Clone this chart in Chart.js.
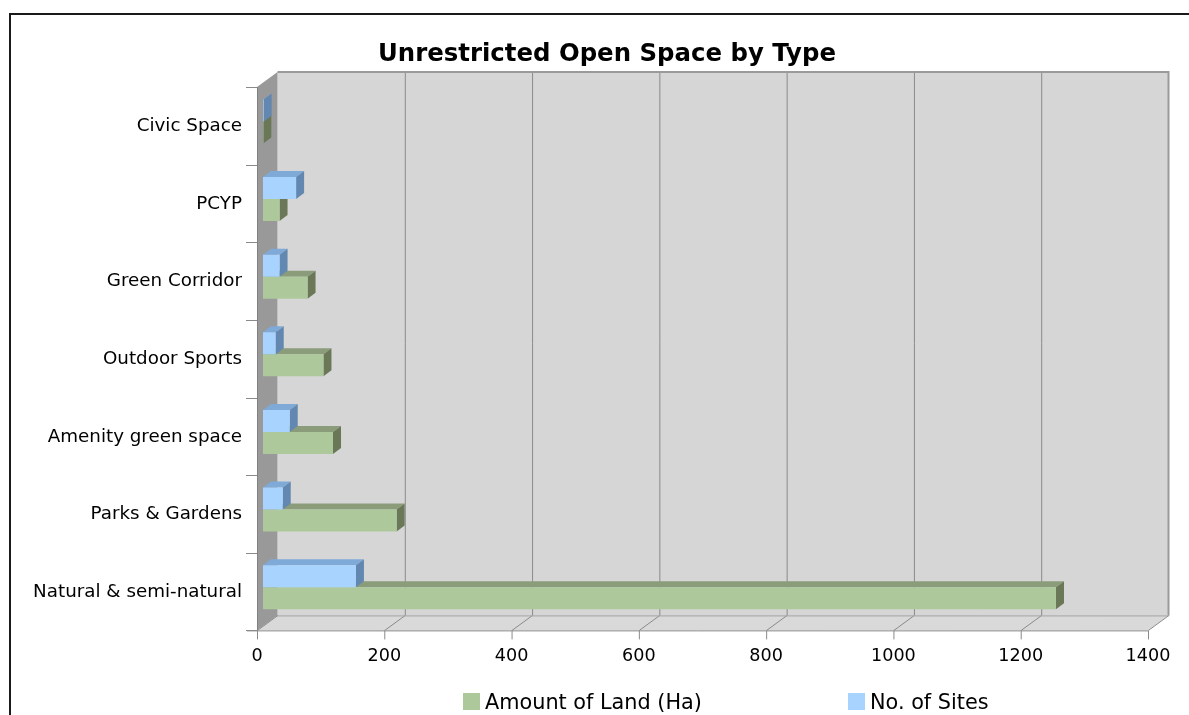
<!DOCTYPE html>
<html>
<head>
<meta charset="utf-8">
<script src="https://cdn.jsdelivr.net/npm/chart.js@4"></script>
<style>
  html, body { margin:0; padding:0; background:#fff; overflow:hidden; width:1189px; height:715px; }
  #frame { position:absolute; left:9px; top:13px; width:1300px; height:800px; border:2px solid #1a1a1a; }
  #wrap { position:absolute; left:0; top:0; width:1189px; height:715px; }
  #title { position:absolute; left:0; top:38px; width:1214px; text-align:center; font:bold 24.4px "DejaVu Sans", Verdana, sans-serif; color:#000; line-height:30px; }
  .leg { position:absolute; top:690px; font:20.8px "DejaVu Sans", Verdana, sans-serif; color:#000; white-space:nowrap; }
  .leg span { display:inline-block; width:17px; height:17px; vertical-align:-1px; margin-right:5px; }
</style>
</head>
<body>
<div id="frame"></div>
<div id="wrap"><canvas id="chart"></canvas></div>
<div id="title">Unrestricted Open Space by Type</div>
<div class="leg" style="left:463px;"><span style="background:#adc99c"></span>Amount of Land (Ha)</div>
<div class="leg" style="left:848px;"><span style="background:#a9d3ff"></span>No. of Sites</div>
<script>
// categories top to bottom
const categories = ['Civic Space', 'PCYP', 'Green Corridor', 'Outdoor Sports', 'Amenity green space', 'Parks & Gardens', 'Natural & semi-natural'];
const landHa = [0.5, 26, 70, 95, 110, 210, 1246];
const sites = [1, 52, 26, 20, 42, 31, 146];
const xTicks = [0, 200, 400, 600, 800, 1000, 1200, 1400];

const FONT = '"DejaVu Sans", Verdana, sans-serif';
// depth offsets from the bar plane
const FRONT = { x: -6, y: 4.4 };
const BACK = { x: 14.5, y: -10.6 };
const BAR_D = { x: 8, y: -6 };

const faces = {
  land: { top: '#8b9c7b', side: '#6a7858' },
  sites: { top: '#7fa9d6', side: '#6287b0' }
};

function poly(ctx, pts, fill, stroke) {
  ctx.beginPath();
  ctx.moveTo(pts[0][0], pts[0][1]);
  for (let i = 1; i < pts.length; i++) ctx.lineTo(pts[i][0], pts[i][1]);
  ctx.closePath();
  if (fill) { ctx.fillStyle = fill; ctx.fill(); }
  if (stroke) { ctx.strokeStyle = stroke; ctx.stroke(); }
}

const depth3d = {
  id: 'depth3d',
  beforeDatasetsDraw(chart) {
    const ctx = chart.ctx;
    const xs = chart.scales.x;
    const area = chart.chartArea;
    const x0 = xs.getPixelForValue(0), x1 = xs.getPixelForValue(1400);
    const t = area.top, b = area.bottom;
    ctx.save();
    ctx.lineWidth = 1;
    // back wall
    poly(ctx, [[x0 + BACK.x, t + BACK.y], [x1 + BACK.x, t + BACK.y], [x1 + BACK.x, b + BACK.y], [x0 + BACK.x, b + BACK.y]], '#d6d6d6');
    // floor
    poly(ctx, [[x0 + FRONT.x, b + FRONT.y], [x1 + FRONT.x, b + FRONT.y], [x1 + BACK.x, b + BACK.y], [x0 + BACK.x, b + BACK.y]], '#d9d9d9');
    // grid on wall + floor + ticks
    xTicks.forEach(v => {
      const p = xs.getPixelForValue(v);
      ctx.strokeStyle = '#8a8a8a';
      ctx.beginPath();
      if (v > 0 && v < 1400) {
        ctx.moveTo(p + BACK.x + 0.5, t + BACK.y);
        ctx.lineTo(p + BACK.x + 0.5, b + BACK.y);
      }
      ctx.moveTo(p + BACK.x + 0.5, b + BACK.y);
      ctx.lineTo(p + FRONT.x + 0.5, b + FRONT.y);
      ctx.lineTo(p + FRONT.x + 0.5, b + FRONT.y + 9);
      ctx.stroke();
    });
    // wall outline
    ctx.strokeStyle = '#9a9a9a';
    ctx.lineWidth = 2;
    ctx.beginPath();
    ctx.moveTo(x0 + BACK.x, t + BACK.y);
    ctx.lineTo(x1 + BACK.x, t + BACK.y);
    ctx.lineTo(x1 + BACK.x, b + BACK.y);
    ctx.stroke();
    ctx.lineWidth = 1;
    ctx.strokeStyle = '#a0a0a0';
    ctx.beginPath();
    ctx.moveTo(x0 + BACK.x, b + BACK.y + 0.5);
    ctx.lineTo(x1 + BACK.x, b + BACK.y + 0.5);
    ctx.stroke();
    ctx.strokeStyle = '#8a8a8a';
    ctx.beginPath();
    ctx.moveTo(x0 + FRONT.x - 10, b + FRONT.y + 0.5);
    ctx.lineTo(x1 + FRONT.x, b + FRONT.y + 0.5);
    ctx.stroke();
    // left side wall
    poly(ctx, [[x0 + FRONT.x, t + FRONT.y], [x0 + BACK.x, t + BACK.y], [x0 + BACK.x, b + BACK.y], [x0 + FRONT.x, b + FRONT.y]], '#999999');
    ctx.strokeStyle = '#808080';
    ctx.beginPath();
    ctx.moveTo(x0 + FRONT.x + 0.5, t + FRONT.y);
    ctx.lineTo(x0 + FRONT.x + 0.5, b + FRONT.y);
    ctx.stroke();
    // category boundary ticks
    const band = (b - t) / categories.length;
    ctx.strokeStyle = '#8a8a8a';
    for (let i = 0; i <= categories.length; i++) {
      const y = Math.round(t + i * band + FRONT.y) + 0.5;
      ctx.beginPath();
      ctx.moveTo(x0 + FRONT.x - 11, y);
      ctx.lineTo(x0 + FRONT.x, y);
      ctx.stroke();
    }
    // bar depth faces: land first (lower), then sites
    [1, 0].forEach(di => {
      const meta = chart.getDatasetMeta(di);
      const f = di === 1 ? faces.land : faces.sites;
      meta.data.forEach(bar => {
        const { x, y, base, height } = bar.getProps(['x', 'y', 'base', 'height'], true);
        const top = y - height / 2, bot = y + height / 2;
        poly(ctx, [[base, top], [base + BAR_D.x, top + BAR_D.y], [x + BAR_D.x, top + BAR_D.y], [x, top]], f.top);
        poly(ctx, [[x, top], [x + BAR_D.x, top + BAR_D.y], [x + BAR_D.x, bot + BAR_D.y], [x, bot]], f.side);
      });
    });
    ctx.restore();
  }
};

new Chart(document.getElementById('chart'), {
  type: 'bar',
  data: {
    labels: categories,
    datasets: [
      { label: 'No. of Sites', data: sites, backgroundColor: '#a9d3ff' },
      { label: 'Amount of Land (Ha)', data: landHa, backgroundColor: '#adc99c' }
    ]
  },
  options: {
    indexAxis: 'y',
    responsive: true,
    maintainAspectRatio: false,
    animation: false,
    categoryPercentage: 0.567,
    barPercentage: 1,
    layout: { padding: { left: 0, right: 35, top: 82.6, bottom: 0 } },
    scales: {
      x: {
        min: 0, max: 1400,
        afterBuildTicks: s => { s.ticks = xTicks.map(v => ({ value: v })); },
        afterFit: s => { s.height = 89; s.paddingLeft = 0; s.paddingRight = 0; },
        grid: { display: false, drawTicks: false },
        border: { display: false },
        ticks: { labelOffset: -6, padding: 20, color: '#000', font: { family: FONT, size: 17.6 }, callback: v => String(v) }
      },
      y: {
        afterFit: s => { s.width = 263; s.paddingTop = 0; s.paddingBottom = 0; },
        grid: { display: false, drawTicks: false },
        border: { display: false },
        ticks: { labelOffset: 5, padding: 21, color: '#000', font: { family: FONT, size: 18.3 } }
      }
    },
    plugins: {
      legend: { display: false },
      tooltip: { enabled: false },
      title: { display: false }
    }
  },
  plugins: [depth3d]
});
</script>
</body>
</html>
